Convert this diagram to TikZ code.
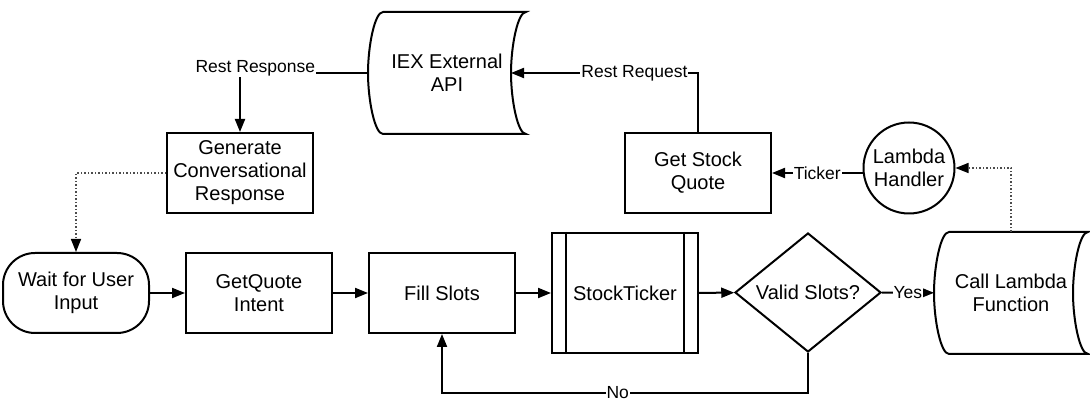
\documentclass[tikz,border=0pt]{standalone}
\usepackage{fontspec}
\setmainfont{Liberation Sans}
\usetikzlibrary{arrows.meta,shapes.geometric}

\begin{document}
\begin{tikzpicture}[x=1pt, y=-1pt, line width=2pt,
	every node/.style={align=center, font=\fontsize{20}{23}\selectfont},
	flowbox/.style={shape=rectangle, draw=black, minimum width=146pt, minimum height=80pt},
	terminal/.style={flowbox, rounded corners=32pt},
	decision/.style={shape=diamond, draw=black, aspect=1.2, inner sep=0pt, minimum width=146pt, minimum height=119pt},
	storeddata/.style={shape=rectangle, draw=none, minimum height=120pt},
	handlerstyle/.style={shape=circle, draw=black, inner sep=0pt, minimum size=91pt},
	lbl/.style={fill=white, inner sep=1pt, font=\fontsize{17.5}{19}\selectfont},
	flow/.style={-{Triangle[length=13pt,width=10pt]}},
	dotflow/.style={-{Triangle[length=13pt,width=10pt,color=black]}, black!70, line width=1.5pt, dotted}]
	\useasboundingbox (0,0) rectangle (1090,411);

	% main row
	\node[terminal]                                   (wait)     at (76,293)     {Wait for User\\Input};
	\node[flowbox]                                    (intent)   at (259,293)    {GetQuote\\Intent};
	\node[flowbox]                                    (fill)     at (442,293)    {Fill Slots};
	\node[flowbox, minimum height=120pt]              (ticker)   at (625,293)    {StockTicker};
	\node[decision]                                   (valid)    at (808,292.5)  {Valid Slots?};
	\node[storeddata, minimum width=152pt]            (call)     at (1011,293)   {Call Lambda\\Function};

	% upper row
	\node[handlerstyle]                               (handler)  at (909,168)    {Lambda\\Handler};
	\node[flowbox]                                    (quote)    at (698,173)    {Get Stock\\Quote};
	\node[storeddata, minimum width=156pt]            (iex)      at (447,73)     {IEX External\\API};
	\node[flowbox]                                    (generate) at (240,173)    {Generate\\Conversational\\Response};

	% subroutine bars
	\draw ([xshift=15pt]ticker.north west) -- ([xshift=15pt]ticker.south west);
	\draw ([xshift=-15pt]ticker.north east) -- ([xshift=-15pt]ticker.south east);

	% stored data outlines
	\foreach \n in {iex,call}
		\draw ([xshift=15pt]\n.north west) .. controls ([xshift=6.7pt]\n.north west) and ([yshift=27pt]\n.west) .. (\n.west)
			.. controls ([yshift=-27pt]\n.west) and ([xshift=6.7pt]\n.south west) .. ([xshift=15pt]\n.south west)
			-- (\n.south east) .. controls ([xshift=-8.3pt]\n.south east) and ([xshift=-15pt,yshift=-27pt]\n.east) .. ([xshift=-15pt]\n.east)
			.. controls ([xshift=-15pt,yshift=27pt]\n.east) and ([xshift=-8.3pt]\n.north east) .. (\n.north east) -- cycle;

	\path [flow] (wait) edge (intent);
	\path [flow] (intent) edge (fill);
	\path [flow] (fill) edge (ticker);
	\path [flow] (ticker) edge (valid);
	\draw [flow] (valid) -- node[lbl] {Yes} (call);
	\draw [flow] (valid.south) -- ++(0,40) -| node[lbl, pos=0.26] {No} (fill.south);
	\draw [dotflow] (call.north) |- (handler.east);
	\draw [flow] (quote.east -| handler.west) -- node[lbl] {Ticker} (quote.east);
	\draw [flow] (quote.north) |- node[lbl, pos=0.67] {Rest Request} ([xshift=-15pt]iex.east);
	\draw [flow] (iex.west) -| node[lbl, pos=0.44, yshift=5pt] {Rest Response} (generate.north);
	\draw [dotflow] (generate.west) -| (wait.north);
\end{tikzpicture}
\end{document}
